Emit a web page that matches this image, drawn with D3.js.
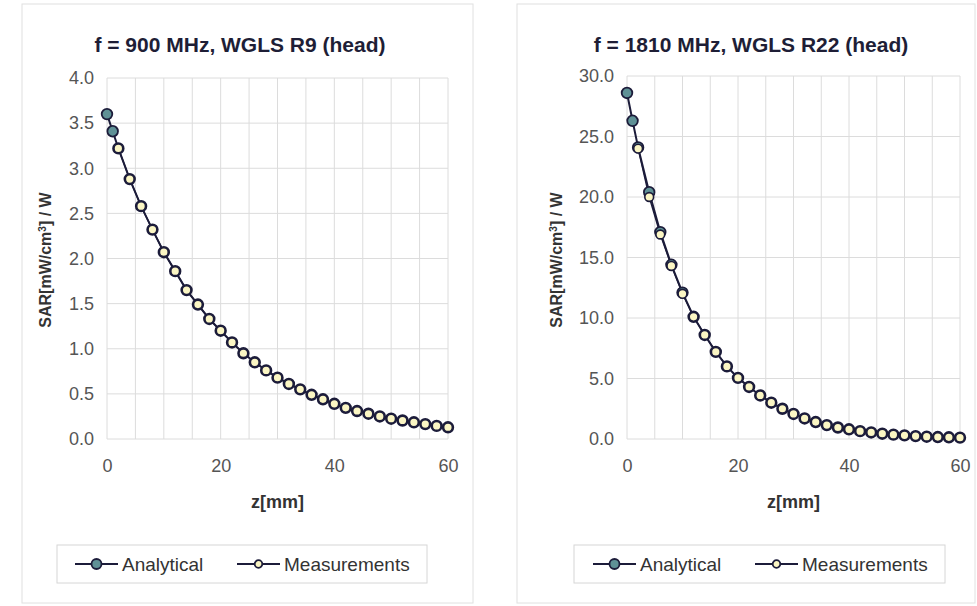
<!DOCTYPE html>
<html>
<head>
<meta charset="utf-8">
<script src="https://cdn.jsdelivr.net/npm/d3@7"></script>
<style>
  body { margin: 0; background: #ffffff; }
  svg { display: block; font-family: "Liberation Sans", Arial, sans-serif; }
</style>
</head>
<body>
<svg id="chart" width="977" height="606"></svg>
<script>
// z positions (mm)
const zAnalytical = [0, 1, 2, 4, 6, 8, 10, 12, 14, 16, 18, 20, 22, 24, 26, 28, 30,
    32, 34, 36, 38, 40, 42, 44, 46, 48, 50, 52, 54, 56, 58, 60];
const zMeasured = [2, 4, 6, 8, 10, 12, 14, 16, 18, 20, 22, 24, 26, 28, 30,
    32, 34, 36, 38, 40, 42, 44, 46, 48, 50, 52, 54, 56, 58, 60];

// 900 MHz, WGLS R9
const sar900Analytical = [3.60, 3.41, 3.22, 2.88, 2.58, 2.32, 2.07, 1.86, 1.65, 1.49, 1.33, 1.20,
    1.07, 0.95, 0.85, 0.76, 0.68, 0.61, 0.55, 0.49, 0.44, 0.39, 0.345, 0.31, 0.28, 0.25,
    0.225, 0.205, 0.185, 0.165, 0.145, 0.13];
const sar900Measured = [3.22, 2.88, 2.58, 2.32, 2.07, 1.86, 1.65, 1.49, 1.33, 1.20,
    1.07, 0.95, 0.85, 0.76, 0.68, 0.61, 0.55, 0.49, 0.44, 0.39, 0.345, 0.31, 0.28, 0.25,
    0.225, 0.205, 0.185, 0.165, 0.145, 0.13];

// 1810 MHz, WGLS R22
const sar1810Analytical = [28.6, 26.3, 24.1, 20.4, 17.1, 14.4, 12.1, 10.1, 8.6, 7.2, 6.0, 5.05,
    4.3, 3.6, 3.0, 2.5, 2.07, 1.7, 1.4, 1.15, 0.95, 0.8, 0.65, 0.54, 0.44, 0.36,
    0.3, 0.24, 0.19, 0.16, 0.14, 0.11];
const sar1810Measured = [24.0, 20.0, 16.9, 14.3, 12.0, 10.1, 8.6, 7.2, 6.0, 5.05,
    4.3, 3.6, 3.0, 2.5, 2.07, 1.7, 1.4, 1.15, 0.95, 0.8, 0.65, 0.54, 0.44, 0.36,
    0.3, 0.24, 0.19, 0.16, 0.14, 0.11];

const xTicks = [0, 20, 40, 60];
const xGrid = d3.range(0, 61, 5);
const yTicks900 = [0, 0.5, 1.0, 1.5, 2.0, 2.5, 3.0, 3.5, 4.0];
const yTicks1810 = [0, 5, 10, 15, 20, 25, 30];

const panels = [
    {
        title: "f = 900 MHz, WGLS R9 (head)",
        titleX: 240,
        frame: [22, 4, 473, 603],
        plot: {left: 107, right: 448, top: 78, bottom: 439},
        yMax: 4, yTicks: yTicks900,
        yLabelX: 45,
        analytical: sar900Analytical, measured: sar900Measured,
        legend: [57, 545, 427, 583], legendItems: [75, 237]
    },
    {
        title: "f = 1810 MHz, WGLS R22 (head)",
        titleX: 751,
        frame: [517, 4, 975, 603],
        plot: {left: 627, right: 960, top: 76, bottom: 439},
        yMax: 30, yTicks: yTicks1810,
        yLabelX: 556,
        analytical: sar1810Analytical, measured: sar1810Measured,
        legend: [574, 545, 945, 583], legendItems: [593, 755]
    }
];

const lineColor = "#1c1c3a";
const analyticalFill = "#5f9196";
const measuredFill = "#fbf6c4";
const font = "Liberation Sans, Arial, sans-serif";

const svg = d3.select("#chart");

function drawPanel(p) {
    const g = svg.append("g");

    g.append("rect")
        .attr("x", p.frame[0]).attr("y", p.frame[1])
        .attr("width", p.frame[2] - p.frame[0]).attr("height", p.frame[3] - p.frame[1])
        .attr("fill", "#ffffff").attr("stroke", "#e0e0e0").attr("stroke-width", 1);

    const xScale = d3.scaleLinear().domain([0, 60]).range([p.plot.left, p.plot.right]);
    const yScale = d3.scaleLinear().domain([0, p.yMax]).range([p.plot.bottom, p.plot.top]);

    // grid
    g.append("g").selectAll("line")
        .data(xGrid)
        .join("line")
        .attr("x1", d => xScale(d)).attr("x2", d => xScale(d))
        .attr("y1", p.plot.top).attr("y2", p.plot.bottom)
        .attr("stroke", "#dcdcdc").attr("stroke-width", 1);

    g.append("g").selectAll("line")
        .data(p.yTicks)
        .join("line")
        .attr("x1", p.plot.left).attr("x2", p.plot.right)
        .attr("y1", d => yScale(d)).attr("y2", d => yScale(d))
        .attr("stroke", "#dcdcdc").attr("stroke-width", 1);

    // axes (labels only)
    const yAxis = g.append("g")
        .attr("transform", `translate(${p.plot.left},0)`)
        .call(d3.axisLeft(yScale).tickValues(p.yTicks).tickFormat(d3.format(".1f")).tickSize(0).tickPadding(13));
    yAxis.select(".domain").remove();
    yAxis.selectAll(".tick text")
        .attr("fill", "#555").style("font-size", "18px").style("font-family", font);

    const xAxis = g.append("g")
        .attr("transform", `translate(0,${p.plot.bottom})`)
        .call(d3.axisBottom(xScale).tickValues(xTicks).tickSize(0).tickPadding(20));
    xAxis.select(".domain").remove();
    xAxis.selectAll(".tick text")
        .attr("fill", "#555").style("font-size", "18px").style("font-family", font);

    // titles
    g.append("text")
        .attr("x", p.titleX).attr("y", 52)
        .attr("text-anchor", "middle")
        .attr("font-weight", "bold").attr("font-size", 21).attr("fill", "#1e1e36")
        .text(p.title);

    g.append("text")
        .attr("x", (p.plot.left + p.plot.right) / 2).attr("y", 508)
        .attr("text-anchor", "middle")
        .attr("font-weight", "bold").attr("font-size", 18).attr("fill", "#333")
        .text("z[mm]");

    const yl = g.append("text")
        .attr("transform", `translate(${p.yLabelX + 6},${260}) rotate(-90)`)
        .attr("text-anchor", "middle")
        .attr("font-weight", "bold").attr("font-size", 16).attr("fill", "#333");
    yl.append("tspan").text("SAR[mW/cm");
    yl.append("tspan").attr("baseline-shift", "super").attr("font-size", 10).text("3");
    yl.append("tspan").text("] / W");

    // series
    const line = d3.line().x(d => xScale(d[0])).y(d => yScale(d[1]));
    const aPts = d3.zip(zAnalytical, p.analytical);
    const mPts = d3.zip(zMeasured, p.measured);

    g.append("path").datum(aPts)
        .attr("d", line).attr("fill", "none")
        .attr("stroke", lineColor).attr("stroke-width", 2);
    g.append("path").datum(mPts)
        .attr("d", line).attr("fill", "none")
        .attr("stroke", lineColor).attr("stroke-width", 1.4);

    g.append("g").selectAll("circle")
        .data(aPts)
        .join("circle")
        .attr("cx", d => xScale(d[0])).attr("cy", d => yScale(d[1]))
        .attr("r", 5.3)
        .attr("fill", analyticalFill).attr("stroke", lineColor).attr("stroke-width", 1.8);

    g.append("g").selectAll("circle")
        .data(mPts)
        .join("circle")
        .attr("cx", d => xScale(d[0])).attr("cy", d => yScale(d[1]))
        .attr("r", 4.4)
        .attr("fill", measuredFill).attr("stroke", lineColor).attr("stroke-width", 1.6);

    // legend
    const L = p.legend;
    g.append("rect")
        .attr("x", L[0]).attr("y", L[1])
        .attr("width", L[2] - L[0]).attr("height", L[3] - L[1])
        .attr("fill", "#fff").attr("stroke", "#d6d6d6");

    const ly = (L[1] + L[3]) / 2;
    const items = [
        {name: "Analytical", fill: analyticalFill, r: 5, x: p.legendItems[0]},
        {name: "Measurements", fill: measuredFill, r: 3.8, x: p.legendItems[1]}
    ];
    const leg = g.append("g").selectAll("g")
        .data(items)
        .join("g")
        .attr("transform", d => `translate(${d.x},${ly})`);
    leg.append("line")
        .attr("x1", 0).attr("x2", 43)
        .attr("stroke", lineColor).attr("stroke-width", 1.8);
    leg.append("circle")
        .attr("cx", 21.5).attr("r", d => d.r)
        .attr("fill", d => d.fill).attr("stroke", lineColor).attr("stroke-width", 1.8);
    leg.append("text")
        .attr("x", 47).attr("y", 6.5)
        .attr("font-size", 19).attr("fill", "#333")
        .text(d => d.name);
}

panels.forEach(drawPanel);
</script>
</body>
</html>
